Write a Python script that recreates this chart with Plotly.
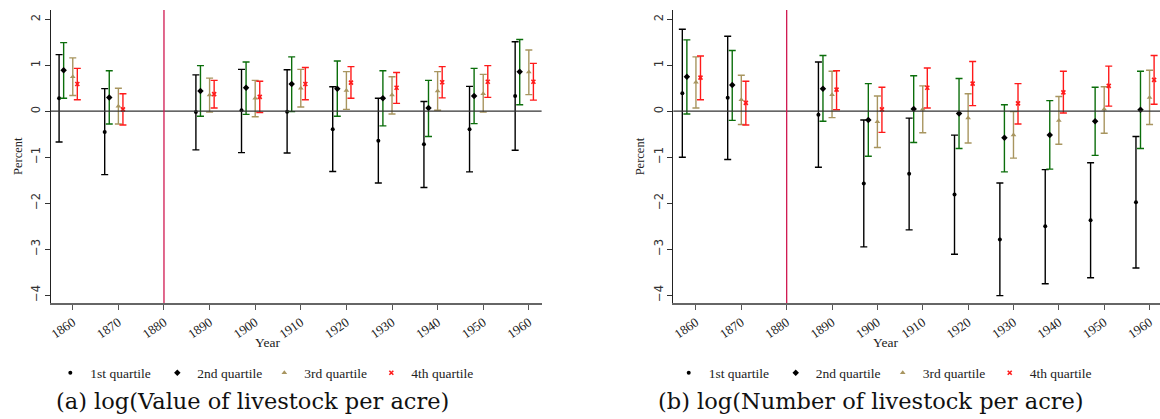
import plotly.graph_objects as go

# Census years and horizontal offsets of each quartile within a year
years = [1860, 1870, 1890, 1900, 1910, 1920, 1930, 1940, 1950, 1960]
offsets = [-3, -2, 0, 1]
quartiles = ["1st quartile", "2nd quartile", "3rd quartile", "4th quartile"]

# (a) log(Value of livestock per acre): estimate, lower CI, upper CI per quartile
a_q1_est = [0.28, -0.45, -0.02, 0.02, -0.01, -0.39, -0.64, -0.72, -0.39, 0.33]
a_q1_lo = [-0.67, -1.38, -0.84, -0.90, -0.91, -1.31, -1.56, -1.66, -1.32, -0.85]
a_q1_hi = [1.23, 0.49, 0.79, 0.91, 0.90, 0.53, 0.28, 0.21, 0.54, 1.51]

a_q2_est = [0.89, 0.30, 0.44, 0.51, 0.59, 0.49, 0.28, 0.07, 0.33, 0.86]
a_q2_lo = [0.28, -0.28, -0.11, -0.07, -0.01, -0.11, -0.32, -0.55, -0.27, 0.14]
a_q2_hi = [1.49, 0.88, 0.99, 1.07, 1.18, 1.09, 0.88, 0.67, 0.93, 1.56]

a_q3_est = [0.75, 0.11, 0.35, 0.28, 0.50, 0.45, 0.35, 0.44, 0.38, 0.85]
a_q3_lo = [0.34, -0.28, -0.02, -0.12, 0.09, 0.04, -0.06, 0.02, -0.02, 0.36]
a_q3_hi = [1.16, 0.50, 0.72, 0.67, 0.91, 0.86, 0.75, 0.86, 0.80, 1.33]

a_q4_est = [0.59, 0.04, 0.37, 0.31, 0.59, 0.62, 0.51, 0.63, 0.64, 0.64]
a_q4_lo = [0.25, -0.30, 0.07, -0.03, 0.25, 0.28, 0.17, 0.29, 0.30, 0.24]
a_q4_hi = [0.93, 0.38, 0.67, 0.65, 0.95, 0.97, 0.84, 0.97, 0.99, 1.04]

# (b) log(Number of livestock per acre)
b_q1_est = [0.39, 0.29, -0.08, -1.57, -1.36, -1.81, -2.79, -2.50, -2.37, -1.98]
b_q1_lo = [-1.00, -1.05, -1.22, -2.95, -2.58, -3.11, -4.01, -3.75, -3.62, -3.41]
b_q1_hi = [1.78, 1.63, 1.07, -0.19, -0.15, -0.52, -1.56, -1.27, -1.12, -0.55]

b_q2_est = [0.75, 0.57, 0.49, -0.19, 0.05, -0.05, -0.58, -0.52, -0.22, 0.03]
b_q2_lo = [-0.06, -0.20, -0.22, -0.98, -0.68, -0.81, -1.32, -1.26, -0.96, -0.81]
b_q2_hi = [1.55, 1.32, 1.21, 0.60, 0.77, 0.71, 0.14, 0.23, 0.52, 0.87]

b_q3_est = [0.63, 0.25, 0.36, -0.23, 0.04, -0.15, -0.52, -0.20, 0.04, 0.30]
b_q3_lo = [0.07, -0.29, -0.14, -0.79, -0.47, -0.69, -1.02, -0.72, -0.48, -0.29]
b_q3_hi = [1.18, 0.78, 0.87, 0.33, 0.55, 0.38, -0.01, 0.32, 0.53, 0.89]

b_q4_est = [0.73, 0.18, 0.47, 0.04, 0.51, 0.60, 0.17, 0.41, 0.55, 0.68]
b_q4_lo = [0.25, -0.30, 0.03, -0.46, 0.07, 0.12, -0.28, -0.04, 0.11, 0.15]
b_q4_hi = [1.20, 0.65, 0.88, 0.52, 0.94, 1.08, 0.60, 0.87, 0.98, 1.21]

x_ticks = [1860, 1870, 1880, 1890, 1900, 1910, 1920, 1930, 1940, 1950, 1960]
y_ticks = [-4, -3, -2, -1, 0, 1, 2]
captions = ["(a) log(Value of livestock per acre)", "(b) log(Number of livestock per acre)"]

bar_colors = ["#000000", "#0b6e0b", "#a8955f", "#ff1a1a"]
marker_colors = ["#000000", "#000000", "#a8955f", "#ff1a1a"]
marker_symbols = ["circle", "diamond", "triangle-up", "x-thin-open"]
marker_sizes = [4, 5, 5, 4]

panels = [
    [(a_q1_est, a_q1_lo, a_q1_hi), (a_q2_est, a_q2_lo, a_q2_hi),
     (a_q3_est, a_q3_lo, a_q3_hi), (a_q4_est, a_q4_lo, a_q4_hi)],
    [(b_q1_est, b_q1_lo, b_q1_hi), (b_q2_est, b_q2_lo, b_q2_hi),
     (b_q3_est, b_q3_lo, b_q3_hi), (b_q4_est, b_q4_lo, b_q4_hi)],
]

W, H = 1160, 419
serif = "Liberation Serif"
caption_font = "DejaVu Serif"
sans = "DejaVu Sans"

fig = go.Figure()

axis_ids = [("x", "y", "legend"), ("x2", "y2", "legend2")]
for p, series in enumerate(panels):
    xa, ya, lg = axis_ids[p]
    for q, (est, lo, hi) in enumerate(series):
        xs = [yr + offsets[q] for yr in years]
        fig.add_trace(go.Scatter(
            x=xs, y=est, mode="markers", name=quartiles[q],
            xaxis=xa, yaxis=ya, legend=lg,
            marker=dict(symbol=marker_symbols[q], size=marker_sizes[q],
                        color=marker_colors[q],
                        line=dict(width=1.6 if q == 3 else 0, color=marker_colors[q])),
            error_y=dict(type="data", symmetric=False,
                         array=[h - e for h, e in zip(hi, est)],
                         arrayminus=[e - l for e, l in zip(est, lo)],
                         color=bar_colors[q], thickness=1.4, width=3.5),
        ))

# Plot-area geometry in pixels
ytop, ybot = 10, 303
panel_x = [(48, 540, [1855.2, 1962.8]), (672, 1160, [1855.0, 1962.3])]
# horizontal centres of the text blocks under each panel
year_cx = [265, 885]
legend_cx = [262, 882]
caption_cx = [250, 870]

layout = dict(
    width=W, height=H, margin=dict(l=0, r=0, t=0, b=0),
    paper_bgcolor="white", plot_bgcolor="white", showlegend=True,
)

shapes = []
annotations = []
for p, (x0, x1, xr) in enumerate(panel_x):
    sfx = "" if p == 0 else "2"
    layout["xaxis" + sfx] = dict(
        domain=[x0 / W, x1 / W], range=xr, anchor="y" + sfx,
        tickvals=x_ticks, ticktext=[str(t) for t in x_ticks], tickangle=-35,
        ticks="outside", ticklen=5, tickcolor="#555", showline=True,
        linecolor="#666", linewidth=1.5, showgrid=False, zeroline=False,
        tickfont=dict(family=serif, size=13, color="#222"),
    )
    layout["yaxis" + sfx] = dict(
        domain=[1 - ybot / H, 1 - ytop / H], range=[-4.17, 2.2], anchor="x" + sfx,
        tickvals=y_ticks, tickangle=-90, ticks="outside", ticklen=5,
        tickcolor="#333", showline=True, linecolor="#222", linewidth=1.2,
        showgrid=False, zeroline=False,
        tickfont=dict(family=sans, size=11.5, color="#333"),
    )
    # zero reference line and the 1880 break
    shapes.append(dict(type="line", xref="x" + sfx + " domain", yref="y" + sfx,
                       x0=0, x1=1, y0=0, y1=0, line=dict(color="#333", width=1.2)))
    shapes.append(dict(type="line", xref="x" + sfx, yref="y" + sfx + " domain",
                       x0=1880, x1=1880, y0=0, y1=1, line=dict(color="#d01850", width=1.3)))
    annotations.append(dict(text="Percent", xref="paper", yref="paper",
                            x=(x0 - 33) / W, y=1 - 156 / H, textangle=-90,
                            xanchor="center", yanchor="middle",
                            showarrow=False, font=dict(family=serif, size=12.5, color="#222")))
    annotations.append(dict(text="Year", xref="paper", yref="paper",
                            x=year_cx[p] / W, y=1 - 342 / H,
                            xanchor="center", yanchor="middle", showarrow=False,
                            font=dict(family=serif, size=13.5, color="#222")))
    annotations.append(dict(text=captions[p], xref="paper", yref="paper",
                            x=caption_cx[p] / W, y=1 - 401 / H,
                            xanchor="center", yanchor="middle", showarrow=False,
                            font=dict(family=caption_font, size=22.5, color="#111")))
    layout["legend" + sfx] = dict(
        orientation="h", xref="paper", yref="paper",
        x=legend_cx[p] / W, y=1 - 373 / H,
        xanchor="center", yanchor="middle", itemwidth=30,
        entrywidth=62, entrywidthmode="pixels",
        font=dict(family=serif, size=13.5, color="#222"),
        bgcolor="rgba(0,0,0,0)", tracegroupgap=0,
    )

layout["shapes"] = shapes
layout["annotations"] = annotations
fig.update_layout(**layout)

fig.write_html("out.html")
